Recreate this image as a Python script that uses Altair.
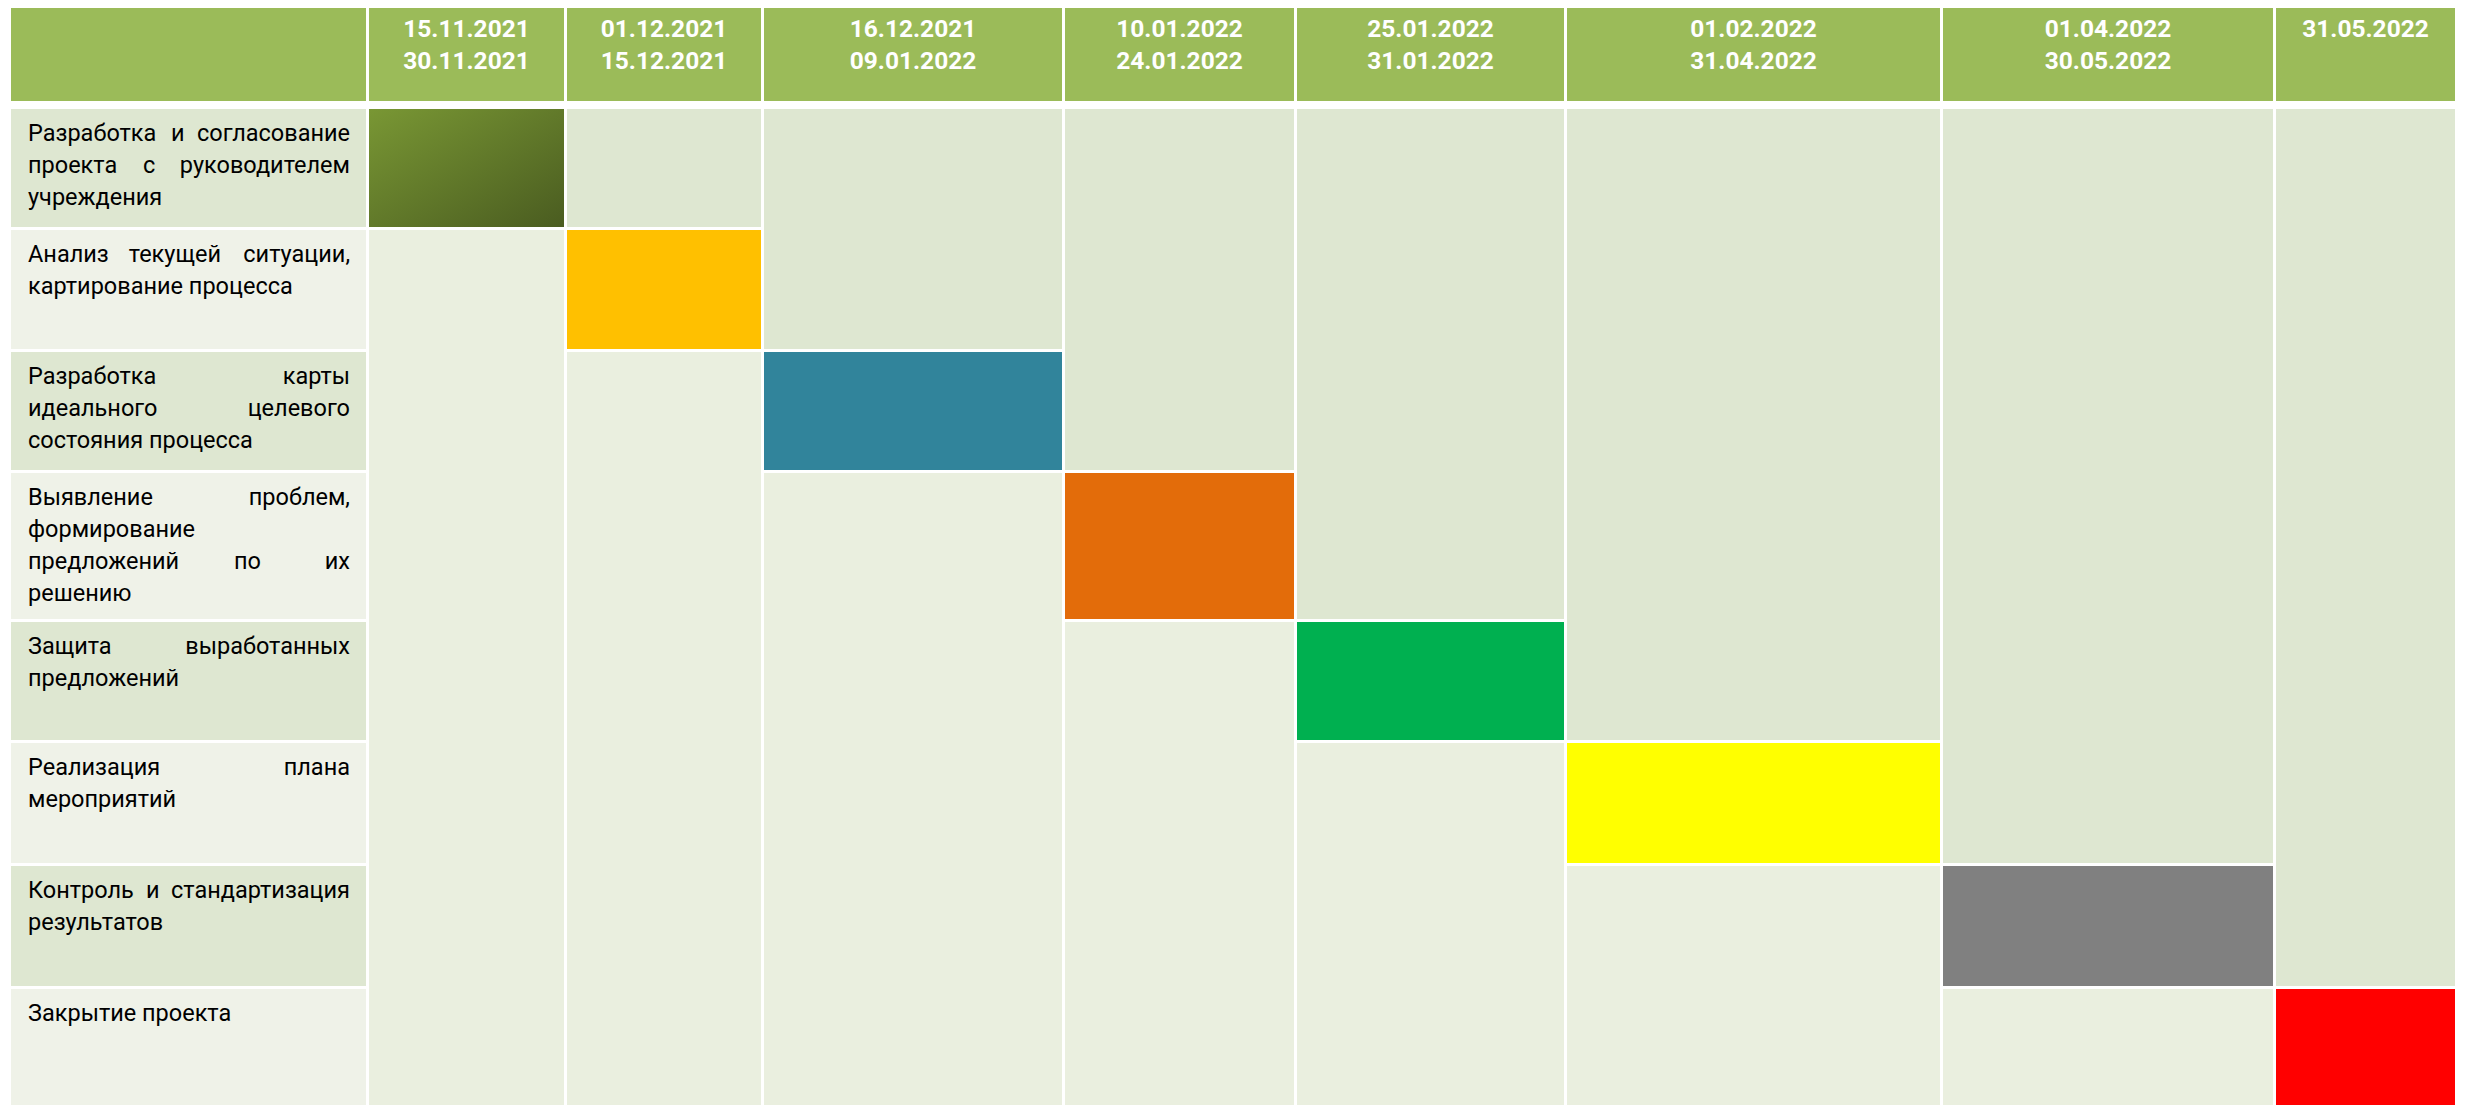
import altair as alt
import pandas as pd

# ---------------- data ----------------
PERIOD_START = ["15.11.2021", "01.12.2021", "16.12.2021", "10.01.2022",
                "25.01.2022", "01.02.2022", "01.04.2022", "31.05.2022"]
PERIOD_END = ["30.11.2021", "15.12.2021", "09.01.2022", "24.01.2022",
              "31.01.2022", "31.04.2022", "30.05.2022", ""]
TASK_LINES = [
    ["Разработка и согласование", "проекта с руководителем", "учреждения"],
    ["Анализ текущей ситуации,", "картирование процесса"],
    ["Разработка карты", "идеального целевого", "состояния процесса"],
    ["Выявление проблем,", "формирование", "предложений по их", "решению"],
    ["Защита выработанных", "предложений"],
    ["Реализация плана", "мероприятий"],
    ["Контроль и стандартизация", "результатов"],
    ["Закрытие проекта"],
]
TASK_PERIOD = [0, 1, 2, 3, 4, 5, 6, 7]
TASK_COLORS = ["#6A8630", "#FFC000", "#31849B", "#E36C0A",
               "#00B050", "#FFFF00", "#808080", "#FF0000"]

# ---------------- layout / style ----------------
W, H = 2450, 1097
GAP = 3
LABEL_X0, LABEL_W = 3, 355
COL_W = [195, 194, 298, 229, 267, 373, 330, 179]
HEAD_Y0, HEAD_H = 0, 93
BODY_Y0 = 101
ROW_H = [118, 119, 118, 146, 118, 120, 120, 140]
TEXT_L, TEXT_R = 20, 342
LINE_TOP, LINE_STEP = 25, 32
HEAD_LINE1, HEAD_LINE2 = 22, 54
FONT = "Roboto"
LABEL_SIZE = 23.5
HEAD_SIZE = 24.5

HEADER_FILL = "#9BBB59"
DARK_FILL = "#DEE7D1"
LIGHT_FILL = "#EAEFDF"
LABEL_LIGHT_FILL = "#EFF2E8"
GRAD_STOPS = [("#799734", 0), ("#4A5C20", 1)]

col_x0 = []
x = LABEL_X0 + LABEL_W + GAP
for w in COL_W:
    col_x0.append(x)
    x += w + GAP
row_y0 = []
y = BODY_Y0
for h in ROW_H:
    row_y0.append(y)
    y += h + GAP
row_y1 = [row_y0[i] + ROW_H[i] for i in range(len(ROW_H))]

rects = []


def add(x0, x1, y0, y1, fill):
    rects.append(dict(x0=x0, x1=x1, y0=max(0, y0), y1=min(H, y1), fill=fill))


# header cells
add(LABEL_X0, LABEL_X0 + LABEL_W, HEAD_Y0, HEAD_Y0 + HEAD_H, HEADER_FILL)
for c, w in enumerate(COL_W):
    add(col_x0[c], col_x0[c] + w, HEAD_Y0, HEAD_Y0 + HEAD_H, HEADER_FILL)
# label cells
for r in range(len(TASK_LINES)):
    add(LABEL_X0, LABEL_X0 + LABEL_W, row_y0[r], row_y1[r],
        DARK_FILL if r % 2 == 0 else LABEL_LIGHT_FILL)
# merged body cells above / below each task bar
n = len(TASK_LINES)
for c, w in enumerate(COL_W):
    r = TASK_PERIOD.index(c)
    if r > 0:
        add(col_x0[c], col_x0[c] + w, row_y0[0], row_y1[r - 1], DARK_FILL)
    if r < n - 1:
        add(col_x0[c], col_x0[c] + w, row_y0[r + 1], H, LIGHT_FILL)
cells = pd.DataFrame(rects)

bars = pd.DataFrame([
    dict(task=t, x0=col_x0[p], x1=col_x0[p] + COL_W[p],
         y0=row_y0[t], y1=min(H, row_y1[t]), fill=TASK_COLORS[t])
    for t, p in enumerate(TASK_PERIOD)
])

# header texts
head_rows = []
for c in range(len(COL_W)):
    cx = col_x0[c] + COL_W[c] / 2
    head_rows.append(dict(x=cx, y=HEAD_LINE1, text=PERIOD_START[c]))
    if PERIOD_END[c]:
        head_rows.append(dict(x=cx, y=HEAD_LINE2, text=PERIOD_END[c]))
heads = pd.DataFrame(head_rows)


# label texts (justified lines)
def est_width(word):
    wsum = 0.0
    for ch in word:
        if ch in "ilj.,:;'!|":
            wsum += 0.24
        elif ch in "шщжмыюфШЩЖМЫЮФ":
            wsum += 0.74
        elif ch.isupper():
            wsum += 0.63
        elif ch == " ":
            wsum += 0.25
        else:
            wsum += 0.53
    return wsum * LABEL_SIZE


word_rows = []
for t, lines in enumerate(TASK_LINES):
    for i, line in enumerate(lines):
        yy = row_y0[t] + LINE_TOP + i * LINE_STEP
        words = line.split(" ")
        last = i == len(lines) - 1
        if last or len(words) == 1:
            word_rows.append(dict(x=TEXT_L, y=yy, text=line, al="left"))
            continue
        widths = [est_width(wd) for wd in words]
        gap = (TEXT_R - TEXT_L - sum(widths)) / (len(words) - 1)
        pos = TEXT_L
        for k, wd in enumerate(words):
            if k == 0:
                word_rows.append(dict(x=TEXT_L, y=yy, text=wd, al="left"))
            elif k == len(words) - 1:
                word_rows.append(dict(x=TEXT_R, y=yy, text=wd, al="right"))
            else:
                word_rows.append(dict(x=pos + widths[k] / 2, y=yy, text=wd, al="center"))
            pos += widths[k] + gap
labels = pd.DataFrame(word_rows)

xs = alt.Scale(domain=[0, W], nice=False, zero=False)
ys = alt.Scale(domain=[0, H], nice=False, zero=False, reverse=True)


def rect_enc(ch):
    return ch.encode(
        x=alt.X("x0:Q", scale=xs, axis=None), x2="x1:Q",
        y=alt.Y("y0:Q", scale=ys, axis=None), y2="y1:Q",
    )


cell_layer = rect_enc(alt.Chart(cells).mark_rect(strokeWidth=0)).encode(
    color=alt.Color("fill:N", scale=None))
bar_layer = rect_enc(alt.Chart(bars).mark_rect(strokeWidth=0)).encode(
    color=alt.Color("fill:N", scale=None)).transform_filter("datum.task > 0")
grad_layer = rect_enc(alt.Chart(bars).mark_rect(
    strokeWidth=0,
    fill={"gradient": "linear", "x1": 0, "y1": 0, "x2": 1, "y2": 1,
          "stops": [{"color": c, "offset": o} for c, o in GRAD_STOPS]},
)).transform_filter("datum.task == 0")

head_layer = alt.Chart(heads).mark_text(
    font=FONT, fontSize=HEAD_SIZE, fontWeight="bold", color="white",
    align="center", baseline="middle",
).encode(x=alt.X("x:Q", scale=xs, axis=None), y=alt.Y("y:Q", scale=ys, axis=None), text="text:N")


def label_layer(al):
    return alt.Chart(labels).mark_text(
        font=FONT, fontSize=LABEL_SIZE, color="#000000", align=al, baseline="middle",
    ).encode(x=alt.X("x:Q", scale=xs, axis=None), y=alt.Y("y:Q", scale=ys, axis=None),
             text="text:N").transform_filter(f"datum.al == '{al}'")


chart = alt.layer(
    cell_layer, bar_layer, grad_layer, head_layer,
    label_layer("left"), label_layer("center"), label_layer("right"),
).properties(
    width=W, height=H, padding=0, background="white",
    autosize=alt.AutoSizeParams(type="none"),
).configure_view(stroke=None)

chart.save("out.html", embed_options={"renderer": "svg", "actions": False})
